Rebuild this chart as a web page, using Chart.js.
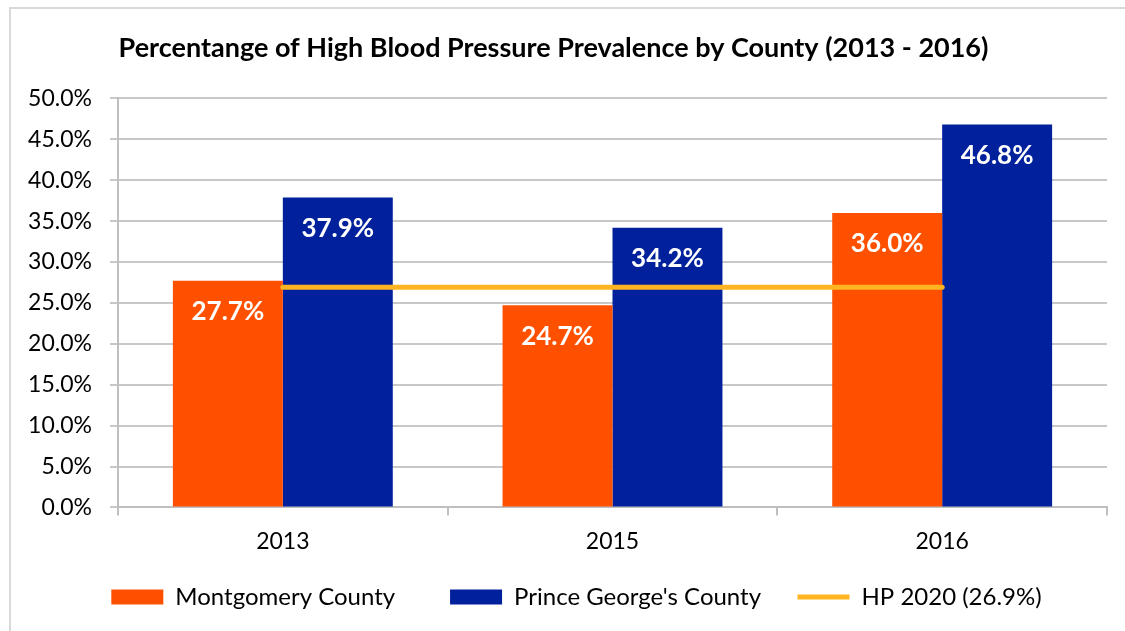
<!DOCTYPE html>
<html>
<head>
<meta charset="utf-8">
<script src="https://cdn.jsdelivr.net/npm/chart.js@4.4.1/dist/chart.umd.min.js"></script>
<style>
    body { margin: 0; overflow: hidden; background: #fff; }
    #frame {
        position: absolute; left: 9px; top: 7px;
        width: 1200px; height: 700px;
        border: 2px solid #d9d9d9;
    }
    #wrap { position: absolute; left: 0; top: 0; width: 1125px; height: 631px; }
</style>
</head>
<body>
<div id="frame"></div>
<div id="wrap"><canvas id="bpChart"></canvas></div>
<script>
const years = ["2013", "2015", "2016"];
const montgomery = [27.7, 24.7, 36.0];
const princeGeorges = [37.9, 34.2, 46.8];
const hp2020 = [26.9, 26.9, 26.9];

const FONT = "Lato, 'Open Sans', sans-serif";

// writes the value inside the top of each bar
const barValueLabels = {
    id: "barValueLabels",
    afterDatasetsDraw(chart) {
        const ctx = chart.ctx;
        ctx.save();
        ctx.font = "bold 26px " + FONT;
        ctx.fillStyle = "#ffffff";
        ctx.textAlign = "center";
        ctx.textBaseline = "middle";
        chart.data.datasets.forEach((ds, i) => {
            if (ds.type !== "bar") return;
            chart.getDatasetMeta(i).data.forEach((bar, j) => {
                ctx.fillText(ds.data[j].toFixed(1) + "%", bar.x, bar.y + 31);
            });
        });
        ctx.restore();
    }
};

// nudge the legend row a little to the right, under the plot
const legendShift = {
    id: "legendShift",
    afterLayout(chart) {
        chart.legend.left += 23;
        chart.legend.right += 23;
    }
};

// wider gaps between legend entries than labels.padding gives
const legendGap = ["      ", "   ", ""];

new Chart(document.getElementById("bpChart"), {
    data: {
        labels: years,
        datasets: [
            {
                type: "bar",
                label: "Montgomery County",
                data: montgomery,
                backgroundColor: "#ff5000",
                pointStyle: "rect",
                barPercentage: 1,
                categoryPercentage: 0.667,
                order: 1
            },
            {
                type: "bar",
                label: "Prince George's County",
                data: princeGeorges,
                backgroundColor: "#00219b",
                pointStyle: "rect",
                barPercentage: 1,
                categoryPercentage: 0.667,
                order: 1
            },
            {
                type: "line",
                label: "HP 2020 (26.9%)",
                data: hp2020,
                borderColor: "#ffb521",
                backgroundColor: "#ffb521",
                borderWidth: 5,
                borderCapStyle: "round",
                pointRadius: 0,
                pointStyle: "line",
                order: 0
            }
        ]
    },
    options: {
        responsive: true,
        maintainAspectRatio: false,
        animation: false,
        layout: { padding: { left: 0, right: 18, top: 0, bottom: 12 } },
        plugins: {
            title: {
                display: true,
                text: "Percentange of High Blood Pressure Prevalence by County (2013 - 2016)",
                color: "#000",
                font: { family: FONT, size: 27, weight: "bold" },
                padding: { top: 32, bottom: 34 }
            },
            legend: {
                position: "bottom",
                labels: {
                    color: "#000",
                    font: { family: FONT, size: 24 },
                    usePointStyle: true,
                    pointStyleWidth: 52,
                    boxHeight: 15,
                    padding: 18,
                    sort: (a, b) => a.datasetIndex - b.datasetIndex,
                    generateLabels(chart) {
                        const items = Chart.defaults.plugins.legend.labels.generateLabels(chart);
                        items.forEach((it) => { it.text += legendGap[it.datasetIndex]; });
                        return items;
                    }
                }
            },
            tooltip: { enabled: false }
        },
        scales: {
            x: {
                grid: {
                    offset: true,
                    drawOnChartArea: false,
                    color: "#bfbfbf",
                    lineWidth: 2,
                    tickLength: 8
                },
                border: { color: "#bfbfbf", width: 2 },
                ticks: { color: "#000", font: { family: FONT, size: 23 }, padding: 12 }
            },
            y: {
                min: 0,
                max: 50,
                afterFit: (s) => { s.width = 118; },
                grid: { color: "#c8c8c8", lineWidth: 2, tickLength: 8 },
                border: { color: "#bfbfbf", width: 2 },
                ticks: {
                    stepSize: 5,
                    color: "#000",
                    font: { family: FONT, size: 23 },
                    padding: 18,
                    callback: (v) => v.toFixed(1) + "%"
                }
            }
        }
    },
    plugins: [barValueLabels, legendShift]
});
</script>
</body>
</html>
